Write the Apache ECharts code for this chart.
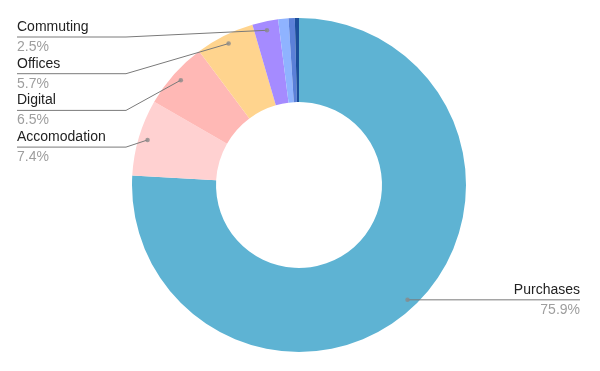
<!DOCTYPE html>
<html><head><meta charset="utf-8">
<script src="https://cdn.jsdelivr.net/npm/echarts@6/dist/echarts.min.js"></script>
<style>html,body{margin:0;padding:0;background:#fff}#c{width:600px;height:371px}</style>
</head><body><div id="c"></div>
<script>
const categories = ['Purchases', 'Accomodation', 'Digital', 'Offices', 'Commuting', 'Other A', 'Other B', 'Other C'];
const values = [75.9, 7.4, 6.5, 5.7, 2.5, 1.0, 0.6, 0.4];
const colors = ['#5eb3d3', '#ffd1d1', '#ffb8b5', '#ffd48e', '#a58bff', '#8fb3ff', '#5b80d8', '#1c4e9c'];
const labelled = [true, true, true, true, true, false, false, false];

const CX = 299, CY = 185, R_IN = 83, R_OUT = 167, R_DOT = 158;
const LEFT_X = 17, ELBOW_X = 126, RIGHT_X = 580, LABEL_TOP = 37, LABEL_STEP = 36.7;
const FONT = '"Liberation Sans", Arial, sans-serif';

const total = values.reduce((a, b) => a + b, 0);
let acc = 0;
const mids = values.map(v => { const m = acc + v / 2; acc += v; return m / total * 100; });

function dotPos(i) {
  const t = mids[i] / 100 * Math.PI * 2;
  return [CX + R_DOT * Math.sin(t), CY - R_DOT * Math.cos(t)];
}
// left-side labels ordered top to bottom
const leftOrder = values.map((v, i) => i).filter(i => labelled[i] && mids[i] > 50).sort((a, b) => mids[b] - mids[a]);

function layout(params) {
  const i = params.dataIndex;
  if (!labelled[i]) return {};
  const d = dotPos(i);
  if (mids[i] > 50) {
    const y = LABEL_TOP + leftOrder.indexOf(i) * LABEL_STEP;
    return { x: LEFT_X, y: y, align: 'left', verticalAlign: 'middle',
      labelLinePoints: [d, [ELBOW_X, y], [LEFT_X, y]] };
  } else {
    const y = d[1];
    return { x: RIGHT_X, y: y, align: 'right', verticalAlign: 'middle',
      labelLinePoints: [d, [d[0] + 1, y], [RIGHT_X, y]] };
  }
}

const pieBase = {
  type: 'pie',
  center: [CX, CY],
  radius: [R_IN, R_OUT],
  startAngle: 90,
  clockwise: true,
  avoidLabelOverlap: false,
  emphasis: { disabled: true },
  silent: true
};

const chart = echarts.init(document.getElementById('c'));
chart.setOption({
  animation: false,
  color: colors,
  polar: { center: [CX, CY], radius: R_OUT },
  angleAxis: { type: 'value', min: 0, max: 100, startAngle: 90, clockwise: true, show: false },
  radiusAxis: { type: 'value', min: 0, max: R_OUT, show: false },
  series: [Object.assign({}, pieBase, {
    z: 2,
    itemStyle: { borderWidth: 0 },
    label: { show: false },
    labelLine: { show: false },
    data: categories.map((c, i) => ({ name: c, value: values[i] }))
  }), Object.assign({}, pieBase, {
    z: 3,
    itemStyle: { color: 'rgba(0,0,0,0)', borderWidth: 0 },
    label: {
      show: true,
      position: 'outside',
      fontFamily: FONT,
      formatter: p => '{n|' + p.name + '}\n{p|' + values[p.dataIndex].toFixed(1) + '%}',
      rich: {
        n: { fontFamily: FONT, fontSize: 14, color: '#222222', lineHeight: 20 },
        p: { fontFamily: FONT, fontSize: 14, color: '#9e9e9e', lineHeight: 20 }
      }
    },
    labelLine: { show: true, lineStyle: { color: '#7a7a7a', width: 1 } },
    labelLayout: layout,
    data: categories.map((c, i) => labelled[i]
      ? { name: c, value: values[i] }
      : { name: c, value: values[i], label: { show: false }, labelLine: { show: false } })
  }), {
    type: 'scatter',
    coordinateSystem: 'polar',
    silent: true,
    z: 5,
    symbolSize: 4.5,
    itemStyle: { color: '#8a8a8a' },
    data: mids.map((m, i) => labelled[i] ? [R_DOT, m] : null).filter(d => d)
  }]
});
</script></body></html>
